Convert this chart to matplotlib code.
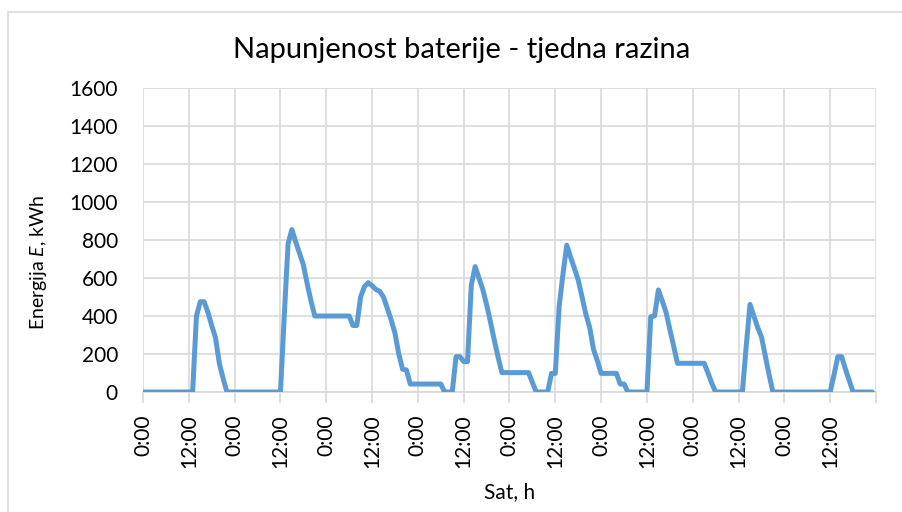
import matplotlib
matplotlib.use("Agg")
import matplotlib.pyplot as plt
from matplotlib.patches import Rectangle

plt.rcParams['font.family'] = ['Lato', 'DejaVu Sans']
plt.rcParams['mathtext.fontset'] = 'custom'
plt.rcParams['mathtext.rm'] = 'Lato'
plt.rcParams['mathtext.it'] = 'Lato:italic'

# battery state of charge, hourly values (kWh), one list per day
day1 = [0, 0, 0, 0, 0, 0, 0, 0, 0, 0, 0, 0, 0, 0,
        400, 475, 475, 420, 350, 285, 150, 70, 0, 0]
day2 = [0, 0, 0, 0, 0, 0, 0, 0, 0, 0, 0, 0, 0,
        400, 780, 855, 790, 730, 670, 570, 480, 400, 400, 400]
day3 = [400, 400, 400, 400, 400, 400, 400, 350, 350, 500, 555, 575,
        560, 540, 530, 500, 440, 380, 310, 200, 120, 116, 42, 42]
day4 = [42, 42, 42, 42, 42, 42, 42, 0, 0, 0, 186, 186,
        160, 160, 563, 660, 600, 540, 460, 370, 275, 185, 102, 102]
day5 = [102, 102, 102, 102, 102, 102, 50, 0, 0, 0, 0, 98,
        98, 449, 620, 773, 710, 650, 590, 500, 410, 340, 225, 165]
day6 = [98, 98, 98, 98, 98, 42, 42, 0, 0, 0, 0, 0,
        0, 396, 400, 537, 480, 420, 330, 240, 151, 151, 151, 151]
day7 = [151, 151, 151, 151, 100, 45, 0, 0, 0, 0, 0, 0,
        0, 0, 240, 461, 400, 340, 290, 190, 90, 0, 0, 0]
day8 = [0, 0, 0, 0, 0, 0, 0, 0, 0, 0, 0, 0, 0,
        90, 186, 186, 120, 60, 0, 0, 0, 0, 0, 0]

energy = day1 + day2 + day3 + day4 + day5 + day6 + day7 + day8
hours = list(range(len(energy)))

tick_hours = list(range(0, 193, 12))
tick_labels = ["0:00" if h % 24 == 0 else "12:00" for h in tick_hours[:-1]] + [""]
y_ticks = [0, 200, 400, 600, 800, 1000, 1200, 1400, 1600]

fig = plt.figure(figsize=(9.03, 5.12), dpi=100)
ax = fig.add_axes([143 / 903, 1 - 392 / 512, (876 - 143) / 903, (392 - 88) / 512])

# light frame around the whole chart
fig.patches.append(Rectangle((8 / 903, -0.1), 1.1, 1 - 12 / 512 + 0.1,
                             transform=fig.transFigure, fill=False,
                             edgecolor='#D9D9D9', linewidth=1.2))

ax.plot(hours, energy, color='#5B9BD5', linewidth=3.6, solid_joinstyle='round',
        solid_capstyle='round', zorder=3)

ax.set_xlim(0, 191)
ax.set_ylim(0, 1600)
ax.set_xticks(tick_hours)
ax.set_xticklabels(tick_labels, rotation=90, fontsize=15)
ax.set_yticks(y_ticks)
ax.set_yticklabels([str(v) for v in y_ticks], fontsize=15)

ax.grid(True, color='#D9D9D9', linewidth=1.2, zorder=0)
for s in ['top', 'right', 'left']:
    ax.spines[s].set_visible(False)
ax.spines['bottom'].set_color('#D9D9D9')
ax.spines['bottom'].set_linewidth(1.2)
ax.tick_params(axis='x', length=8, width=1.2, color='#D9D9D9', pad=8)
ax.tick_params(axis='y', length=0, pad=18)

fig.text(462 / 903, 1 - 50 / 512, "Napunjenost baterije - tjedna razina",
         fontsize=21, ha='center', va='center')
ax.set_xlabel("Sat, h", fontsize=15, labelpad=10)
ax.set_ylabel("Energija $\\mathit{E}$, kWh", fontsize=14)
ax.yaxis.set_label_coords(-0.128, 0.428)

fig.savefig("out.png", dpi=100)
